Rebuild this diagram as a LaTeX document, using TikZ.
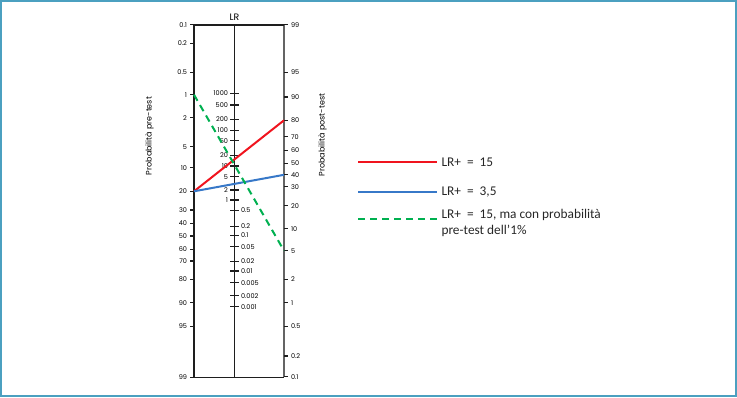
\documentclass[tikz,border=0pt]{standalone}
\usepackage{fontspec}
\setmainfont{Carlito}
\newfontfamily\nomofont{Poppins}
\definecolor{framecol}{RGB}{75,160,192}
\definecolor{lrred}{RGB}{240,20,30}
\definecolor{lrblue}{RGB}{55,120,200}
\definecolor{lrgreen}{RGB}{0,176,80}
\definecolor{axisdark}{RGB}{30,30,30}
\definecolor{axisgray}{RGB}{100,100,100}

\tikzset{every picture/.style={line width=0.75pt}}
\tikzset{
  ticklbl/.style={inner sep=0.75pt,font=\nomofont\fontsize{4.9}{5}\selectfont,text=black},
  axistitle/.style={inner sep=0.75pt,font=\nomofont\fontsize{6}{6}\selectfont,text=black},
  legtext/.style={inner sep=3pt,anchor=west,align=left,font=\fontsize{10}{11.8}\selectfont,text=black!85},
  redline/.style={color=lrred,line width=1.5},
  blueline/.style={color=lrblue,line width=1.5},
  greenline/.style={color=lrgreen,line width=1.5,dash pattern={on 5.25pt off 3.75pt}}
}

\begin{document}
\begin{tikzpicture}[x=0.75pt,y=0.75pt,yscale=-1,xscale=1]
\useasboundingbox (0,0) rectangle (737,397);

%Shape: Frame
\draw [color=framecol,line width=1.5] (1,1) rectangle (736,396);

%Axes of the nomogram
\coordinate (LT) at (194,24.7);
\coordinate (LB) at (194,377.3);
\coordinate (MT) at (234.5,24.7);
\coordinate (MB) at (234.5,377.3);
\coordinate (RT) at (284,24.7);
\coordinate (RB) at (284,377.3);
\draw [color=axisdark,line width=1.2] (LT) -- (LB);
\draw [color=axisgray,line width=1.8] (RT) -- (RB);
\draw [color=axisdark,line width=0.8] (MT) -- (MB);
\draw [color=axisdark,line width=1.2] (LT) -- (RT);
\draw [color=axisdark,line width=1.2] (LB) -- (RB);

% Text Node
\node [inner sep=0.75pt,font=\nomofont\fontsize{7}{7}\selectfont,text=black] (lrtitle) at (234.5,17.5) {LR};

%Left scale: pre-test
\foreach \p/\y [count=\i] in {0.1/24.7,0.2/43.3,0.5/72.5,1/94.7,2/117.8,5/146.7,10/167.7,20/191.3,30/210,40/223.5,50/236,60/249.3,70/261,80/279.3,90/302.7,95/326.3,99/377.3}
{
  \draw [color=axisdark,line width=1] (190,\y) -- (194,\y);
  \node [ticklbl,anchor=east] (prelbl\i) at (188.5,\y) {\p};
}

%Right scale: post-test
\foreach \p/\y [count=\i] in {99/24.7,95/72.3,90/97,80/120.3,70/136.7,60/150.2,50/163.3,40/174.8,30/186.8,20/205.8,10/228.8,5/250.7,2/279.3,1/302.7,0.5/326.3,0.2/356,0.1/376.8}
{
  \draw [color=axisdark,line width=1] (284,\y) -- (288,\y);
  \node [ticklbl,anchor=west] (postlbl\i) at (289.5,\y) {\p};
}

%Middle scale: LR
\foreach \p/\y [count=\i] in {1000/93.3,500/105,200/119.2,100/130.3,50/140.7,20/155.3,10/166,5/176.7,2/190,1/200}
{
  \draw [color=axisdark,line width=0.9] (230,\y) -- (238.5,\y);
  \node [ticklbl,anchor=east] (lrhi\i) at (229.5,\y) {\p};
}
\foreach \p/\y [count=\i] in {0.5/210.5,0.2/226.2,0.1/235.5,0.05/246.7,0.02/261.5,0.01/271,0.005/282.7,0.002/295.8,0.001/306.8}
{
  \draw [color=axisdark,line width=0.9] (230,\y) -- (238.5,\y);
  \node [ticklbl,anchor=west] (lrlo\i) at (239.5,\y) {\p};
}

% Text Node
\node [axistitle,rotate=90] (pretitle) at (149.5,136) {Probabilità pre-test};
% Text Node
\node [axistitle,rotate=90] (posttitle) at (322.5,135) {Probabilità post-test};

%Straight Lines: nomogram readings
\coordinate (pre20) at (194,191.3);
\coordinate (pre1) at (194,94.7);
\coordinate (post80) at (284,120.3);
\coordinate (post40) at (284,174.8);
\coordinate (post5) at (284,250.7);
\draw [redline] (pre20) -- (post80);
\draw [blueline] (pre20) -- (post40);
\draw [greenline] (pre1) -- (post5);

%Legend
\node [legtext] (legred) at (437,162.3) {LR+\ \ =\ \ 15};
\node [legtext] (legblue) at (437,191.7) {LR+\ \ =\ \ 3,5};
\node [legtext] (leggreen) at (437,223) {LR+\ \ =\ \ 15, ma con probabilità\\pre-test dell’1\%};
\coordinate (legredA) at (358,162.3);
\coordinate (legblueA) at (358,191.7);
\coordinate (leggreenA) at (358,218.7);
\draw [redline] (legredA) -- (legred.west);
\draw [blueline] (legblueA) -- (legblue.west);
\draw [greenline] (leggreenA) -- (leggreenA -| leggreen.west);

\end{tikzpicture}
\end{document}
